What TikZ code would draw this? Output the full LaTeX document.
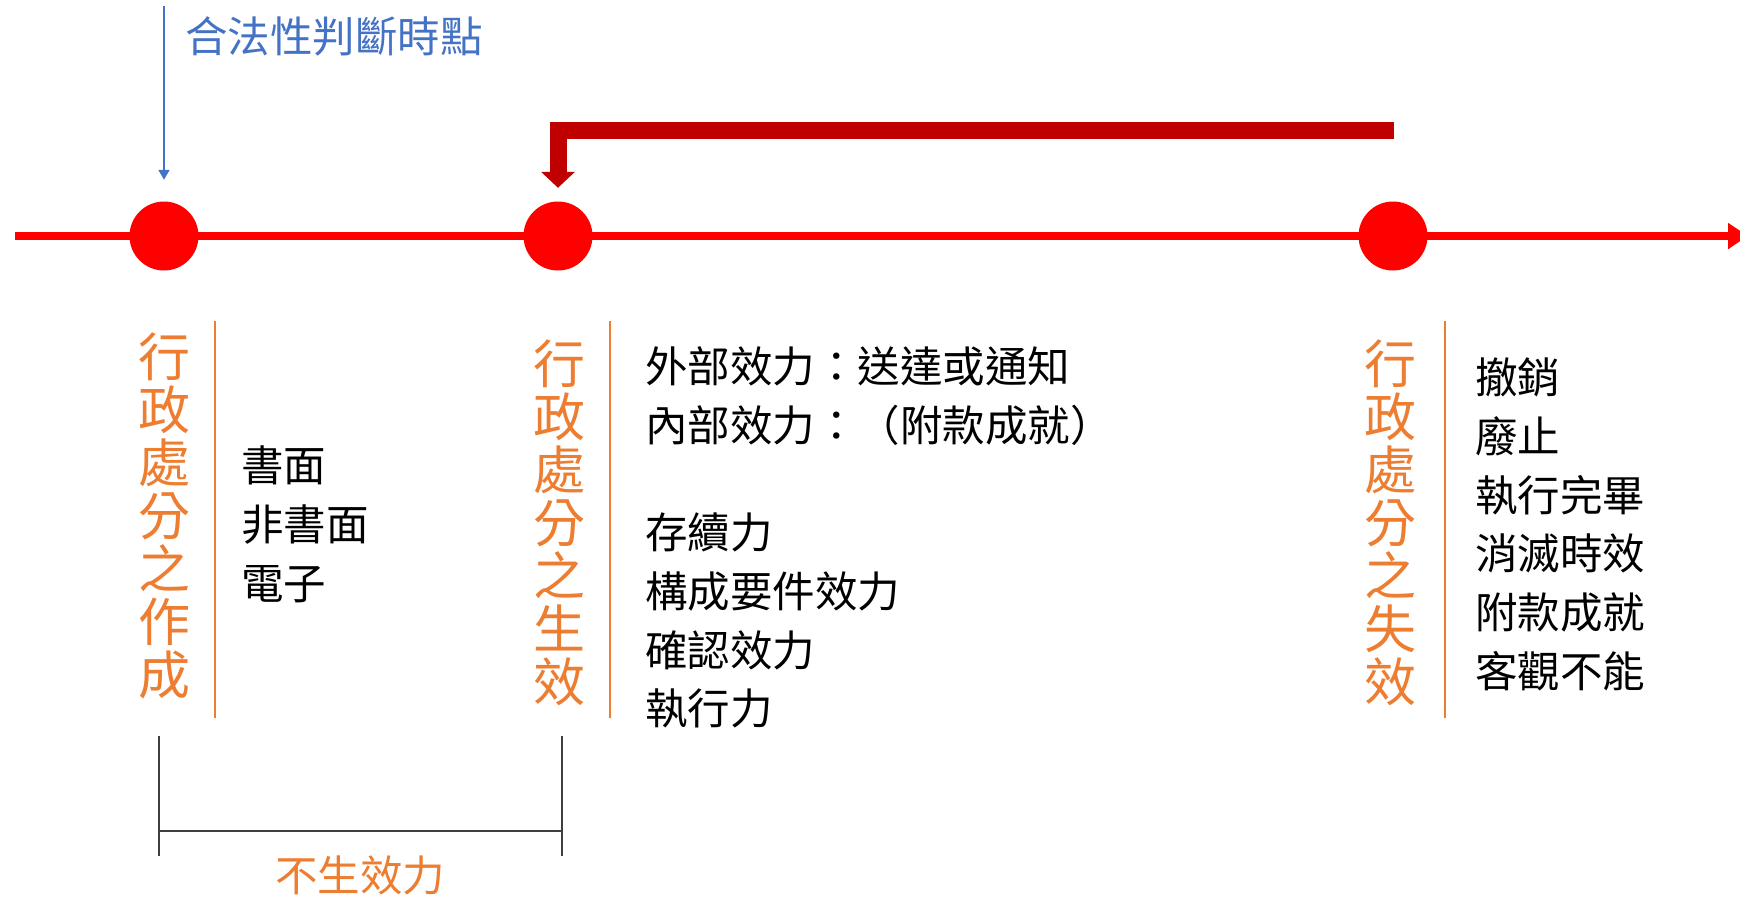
\documentclass[tikz,border=0pt]{standalone}
\usepackage{fontspec}
\setmainfont{Noto Sans CJK TC}
\usetikzlibrary{arrows.meta}
\definecolor{myOrange}{HTML}{ED7D31}
\definecolor{myBlue}{HTML}{4472C4}
\definecolor{myDarkRed}{HTML}{C00000}
\definecolor{myRed}{HTML}{FF0000}
\definecolor{myGray}{HTML}{404040}
\newcommand{\myStage}[4]{
\foreach \ch [count=\i from 0] in {#4}
	\node[stage] (#1\i) at (#2,{#3+53*\i}) {\ch};
}
\newcommand{\myItems}[4]{
\foreach \txt [count=\i from 0] in {#4}
	\node[item] (#1\i) at (#2,{#3+58.7*\i}) {\txt};
}
\tikzset{
	stage/.style={text=myOrange, inner sep=0pt, font=\fontsize{52}{53}\selectfont,
		text height=43pt, text depth=4pt},
	item/.style={anchor=west, inner sep=0pt, font=\fontsize{42.5}{50}\selectfont,
		text height=35pt, text depth=3.4pt},
	dot/.style={circle, fill=myRed, minimum size=69pt, inner sep=0pt},
	timeline/.style={draw=myRed, line width=8pt, -{Triangle[length=20pt,width=25pt]}},
	sep/.style={draw=myOrange, line width=1.5pt},
	bracket/.style={draw=myGray, line width=1.4pt}
}
\begin{document}
\begin{tikzpicture}[x=1pt,y=-1pt]
	\useasboundingbox (0,0) rectangle (1740,898);

	% time axis
	\coordinate (start) at (15,236);
	\coordinate (end) at (1748,236);
	\draw[timeline] (start) -- (end);
	\node[dot] (make) at (164,236) {};
	\node[dot] (valid) at (558,236) {};
	\node[dot] (lapse) at (1393,236) {};

	% point of legality check
	\coordinate (check) at (164,6);
	\draw[myBlue, line width=1.8pt, -{Triangle[length=10pt,width=11pt]}, shorten >=21.5pt] (check) -- (make);
	\node[item, text=myBlue] (checklabel) at (185,36.5) {合法性判斷時點};

	% back to effectiveness
	\coordinate (back) at (1394,130);
	\draw[myDarkRed, line width=17pt, -{Triangle[length=16pt,width=33pt]}, shorten >=13.5pt] (back) -| (valid);

	% the three stages
	\myStage{mk}{164}{357}{行,政,處,分,之,作,成}
	\myStage{vd}{559}{364}{行,政,處,分,之,生,效}
	\myStage{lp}{1390}{364}{行,政,處,分,之,失,效}
	\draw[sep] (215,321) -- (215,718);
	\draw[sep] (610,321) -- (610,718);
	\draw[sep] (1445,321) -- (1445,718);

	\myItems{form}{241}{466}{書面,非書面,電子}
	\myItems{ext}{645}{367}{外部效力：送達或通知,內部效力：（附款成就）}
	\myItems{eff}{645}{533}{存續力,構成要件效力,確認效力,執行力}
	\myItems{end}{1475}{378}{撤銷,廢止,執行完畢,消滅時效,附款成就,客觀不能}

	% not yet effective
	\draw[bracket] (159,736) -- (159,856);
	\draw[bracket] (562,736) -- (562,856);
	\draw[bracket] (159,831) -- (562,831);
	\node[item, anchor=center, text=myOrange] (none) at (360,876) {不生效力};
\end{tikzpicture}
\end{document}
